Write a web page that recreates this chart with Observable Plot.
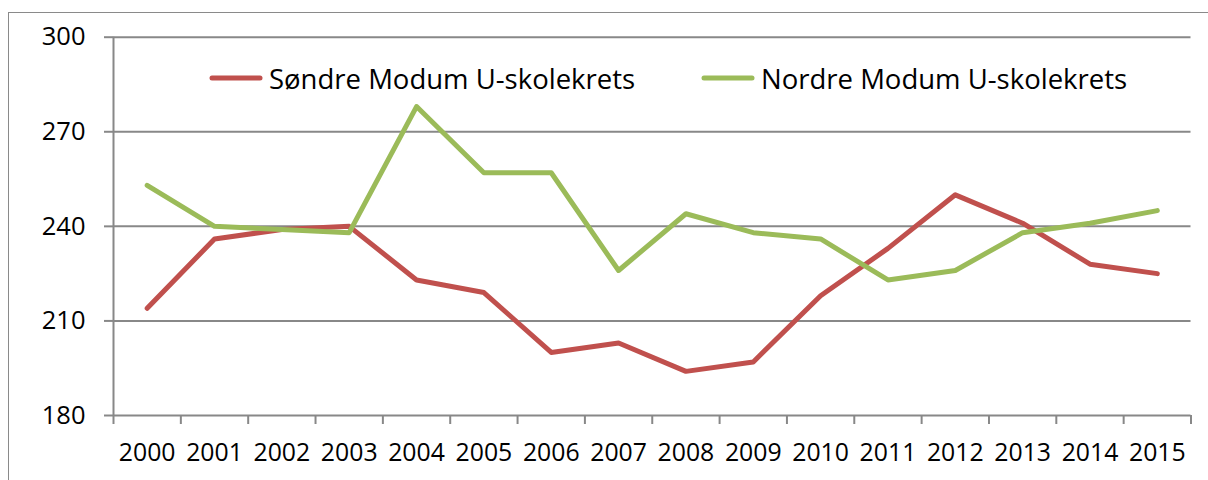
<!DOCTYPE html>
<html>
<head>
<meta charset="utf-8">
<script src="https://cdn.jsdelivr.net/npm/d3@7"></script>
<script src="https://cdn.jsdelivr.net/npm/@observablehq/plot@0.6"></script>
<style>
  html, body { margin: 0; padding: 0; background: #fff; overflow: hidden; }
  #wrap { position: relative; width: 1208px; height: 480px; font-family: "Open Sans", sans-serif; }
  #border { position: absolute; left: 8px; top: 12px; width: 1400px; height: 700px;
            border-left: 1.5px solid #8a8a8a; border-top: 1.5px solid #8a8a8a; pointer-events: none; }
  #legend { position: absolute; top: 60px; left: 0; height: 36px; font-size: 27.5px; color: #000; }
  .item { position: absolute; top: 0; display: flex; align-items: center; white-space: nowrap; height: 36px; }
  .item svg { margin-right: 6px; }
  svg text { fill: #000; }
</style>
</head>
<body>
<div id="wrap">
  <div id="chart"></div>
  <div id="border"></div>
  <div id="legend"></div>
</div>
<script>
const years = [2000, 2001, 2002, 2003, 2004, 2005, 2006, 2007, 2008, 2009, 2010, 2011, 2012, 2013, 2014, 2015];
const sondre = [214, 236, 239, 240, 223, 219, 200, 203, 194, 197, 218, 233, 250, 241, 228, 225];
const nordre = [253, 240, 239, 238, 278, 257, 257, 226, 244, 238, 236, 223, 226, 238, 241, 245];
const seriesNames = ["Søndre Modum U-skolekrets", "Nordre Modum U-skolekrets"];
const seriesColors = ["#C0504D", "#9BBB59"];
const yTicks = [180, 210, 240, 270, 300];

const data = [];
years.forEach((yr, i) => {
  data.push({year: yr, value: sondre[i], series: seriesNames[0]});
  data.push({year: yr, value: nordre[i], series: seriesNames[1]});
});
const boundaries = years.map(y => y - 0.5).concat([years[years.length - 1] + 0.5]);
const grid = "#888888";

const chart = Plot.plot({
  width: 1208,
  height: 480,
  marginLeft: 113,
  marginRight: 17.5,
  marginTop: 36.7,
  marginBottom: 65,
  style: {fontFamily: "'Open Sans', sans-serif", background: "transparent"},
  x: {type: "linear", domain: [years[0] - 0.5, years[years.length - 1] + 0.5], label: null},
  y: {domain: [180, 300], label: null},
  color: {domain: seriesNames, range: seriesColors},
  marks: [
    Plot.gridY(yTicks, {stroke: grid, strokeOpacity: 1, strokeWidth: 2}),
    Plot.ruleX([years[0] - 0.5], {stroke: grid, strokeWidth: 2}),
    Plot.axisX(boundaries, {tickSize: 9, tickFormat: () => "", stroke: grid, strokeWidth: 2, strokeOpacity: 1, label: null}),
    Plot.axisX(years, {tickSize: 0, tickPadding: 28, tickFormat: d => String(d), fontSize: 24.8, fill: "#000", label: null}),
    Plot.axisY(yTicks, {tickSize: 9, tickPadding: 19, stroke: grid, strokeWidth: 2, strokeOpacity: 1, fontSize: 25.5, fill: "#000", label: null}),
    Plot.line(data, {x: "year", y: "value", z: "series", stroke: "series", strokeWidth: 5, strokeLinejoin: "round", strokeLinecap: "round"})
  ]
});
document.getElementById("chart").appendChild(chart);

const legend = document.getElementById("legend");
const lx = [209, 701];
seriesNames.forEach((name, i) => {
  const item = document.createElement("div");
  item.className = "item";
  item.style.left = lx[i] + "px";
  item.innerHTML = `<svg width="54" height="10"><line x1="3" y1="5" x2="51" y2="5" stroke="${seriesColors[i]}" stroke-width="5" stroke-linecap="round"/></svg><span>${name}</span>`;
  legend.appendChild(item);
});
</script>
</body>
</html>
